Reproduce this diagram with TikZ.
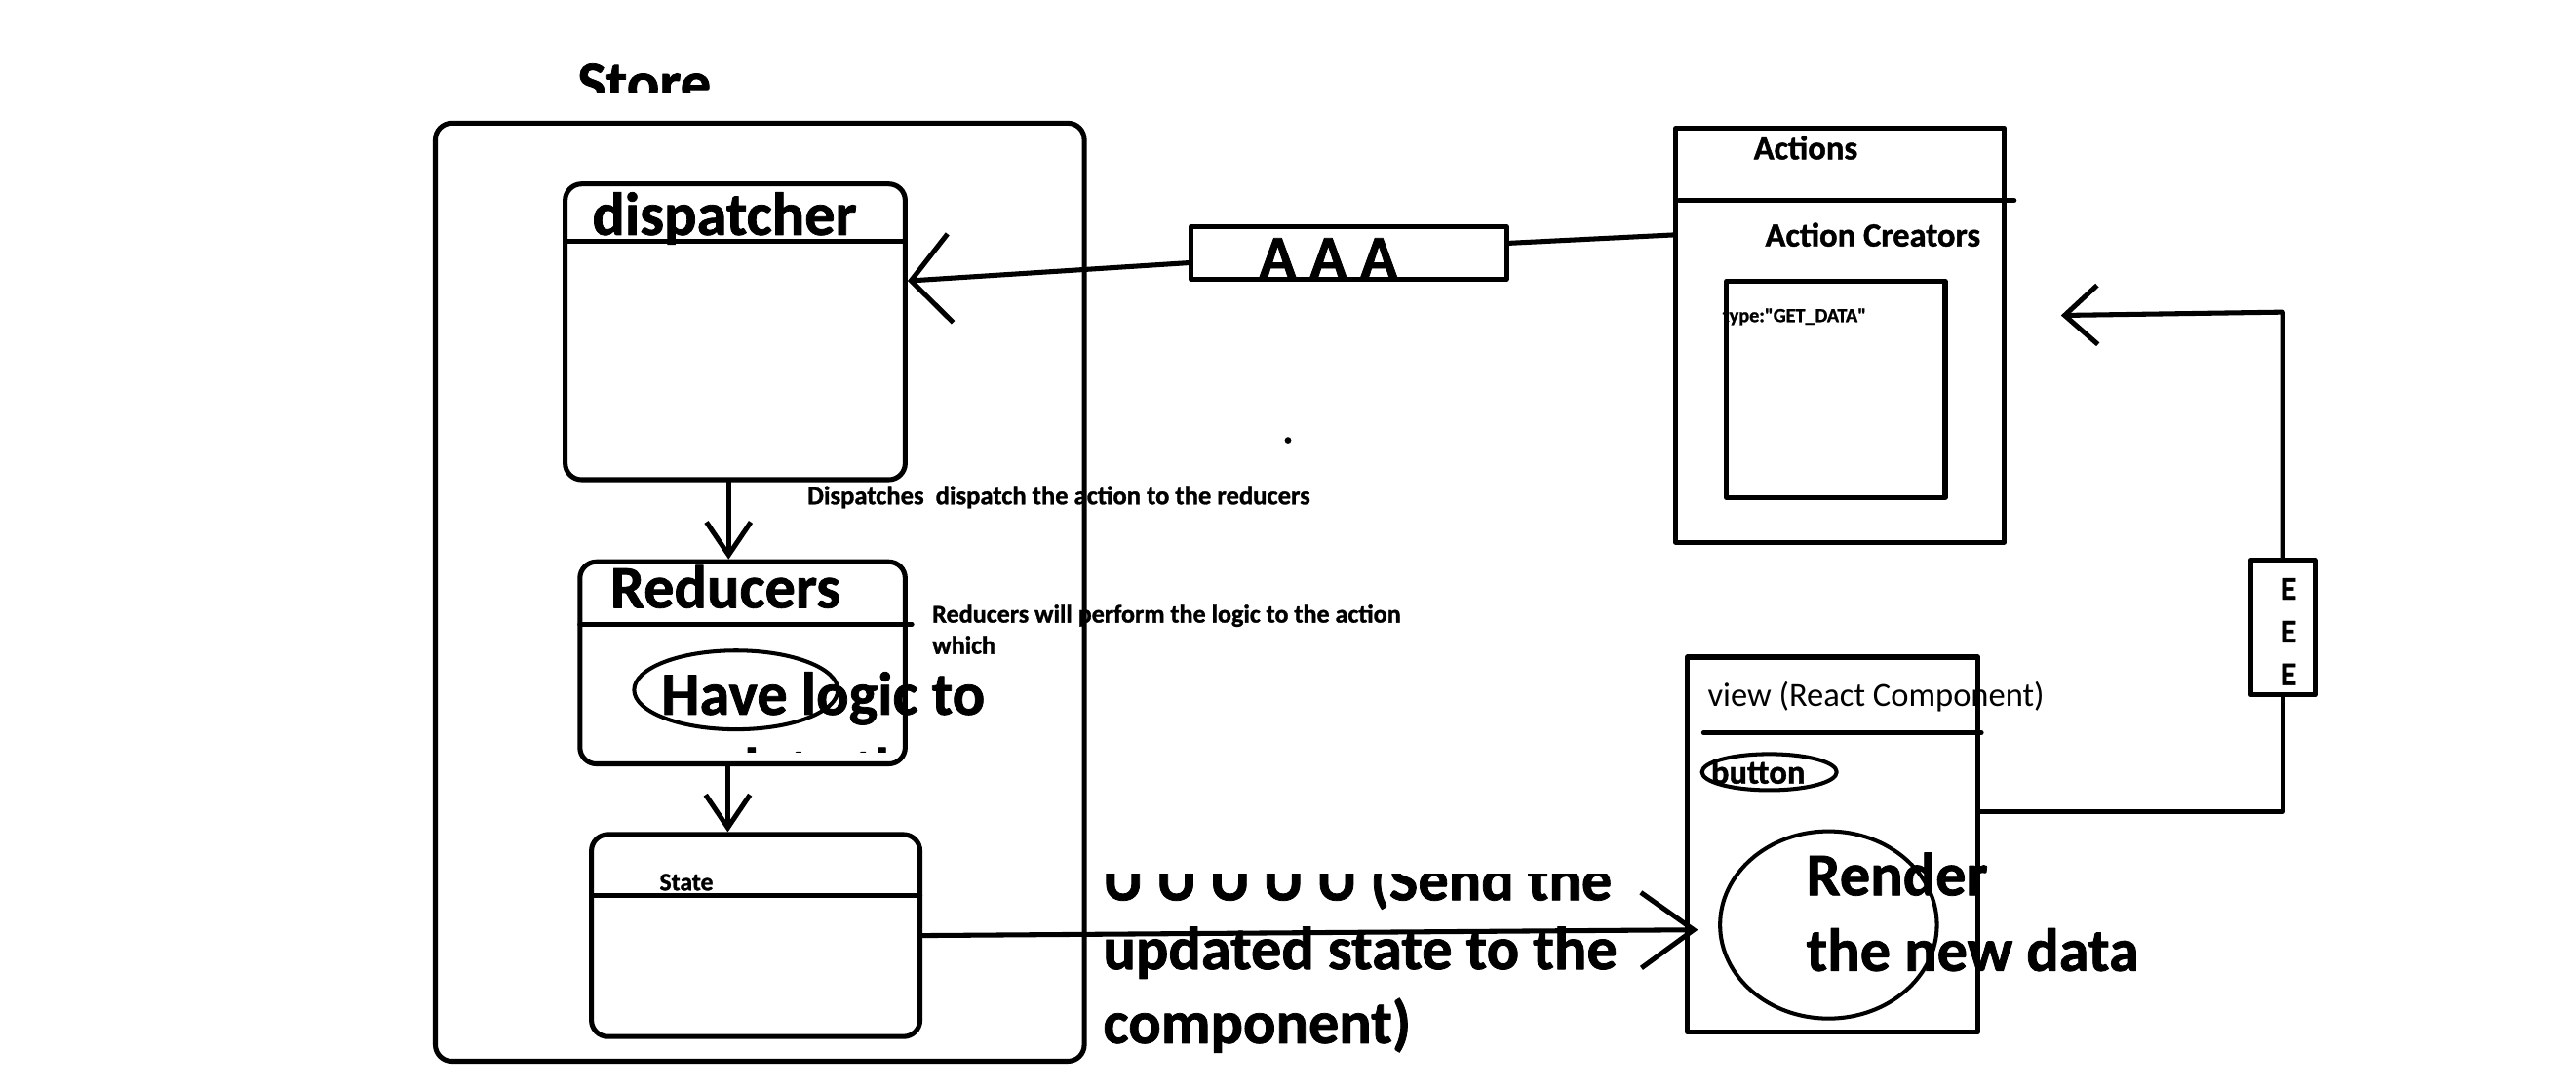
\documentclass[tikz,border=0pt]{standalone}
\usepackage{fontspec}
\setmainfont{Carlito}[BoldFeatures={FakeBold=1.2}]
\newfontfamily\rawfont{Carlito}[Ligatures=TeXOff, BoldFeatures={FakeBold=1.2}]
\usetikzlibrary{arrows.meta,calc,shapes.geometric}
\begin{document}
\begin{tikzpicture}[x=1pt,y=-1pt, line width=3pt, line cap=round, line join=round,
  rbox/.style={draw, rounded corners=10pt, inner sep=0pt},
  sbox/.style={draw, inner sep=0pt},
  oval/.style={draw, ellipse, inner sep=0pt, line width=2.4pt},
  lbl/.style={anchor=base west, inner sep=0pt, font=\bfseries\fontsize{#1}{#1}\selectfont},
  reg/.style={anchor=base west, inner sep=0pt, font=\fontsize{#1}{#1}\selectfont},
  arrbig/.style={-{Straight Barb[length=24pt,width=54pt]}},
  arrmid/.style={-{Straight Barb[length=20pt,width=27pt]}},
  arrview/.style={-{Straight Barb[length=32pt,width=46pt]}},
  arrtop/.style={-{Straight Barb[length=20pt,width=36pt]}}]
\useasboundingbox (0,0) rectangle (1568,663.5);
\fill[white] (0,0) rectangle (1568,663.5);

% boxes
\node[rbox, minimum width=395pt, minimum height=571pt] (store) at (462.5,360.5) {};
\node[rbox, minimum width=207pt, minimum height=180pt] (disp) at (447.5,202) {};
\node[rbox, minimum width=198pt, minimum height=123pt] (red) at (452,403.5) {};
\node[rbox, minimum width=200pt, minimum height=123pt] (state) at (460,569.5) {};
\node[sbox, minimum width=192pt, minimum height=32pt] (aaa) at (821,154) {};
\node[sbox, minimum width=200pt, minimum height=252pt] (actions) at (1120,204) {};
\node[sbox, minimum width=133pt, minimum height=132pt] (inner) at (1117.5,237) {};
\node[sbox, minimum width=177pt, minimum height=228pt] (view) at (1115.5,514) {};
\node[sbox, minimum width=39pt, minimum height=82pt] (eee) at (1389.5,382) {};

% dividers
\draw (344,147) -- (551,147);
\draw (353,380) -- (555,380);
\draw (360,545) -- (560,545);
\draw (1022,122) -- (1226,122);
\draw (1037,446) -- (1206,446);

% ovals
\node[oval, minimum width=124pt, minimum height=48pt] (logic) at (448,420) {};
\node[oval, minimum width=82pt, minimum height=22pt] (btn) at (1077,470) {};
\node[oval, minimum width=132pt, minimum height=114pt] (render) at (1113,563) {};

% dot
\fill (784,268) circle (2pt);

% texts
\begin{scope}
\clip (300,0) rectangle (500,56);
\node[lbl=37] (storet) at (350,63) {Store};
\end{scope}
\node[lbl=37] (dispt) at (359,143) {dispatcher};
\node[lbl=37] (aaat) at (765,169) {A A A};
\node[lbl=20.5] (actt) at (1066,97) {Actions};
\node[lbl=20.5] (acct) at (1073,150) {Action Creators};
\node[anchor=base west, inner sep=0pt, font=\rawfont\bfseries\fontsize{12}{12}\selectfont] (typet) at (1047,196) {type:"GET\_DATA"};
\node[lbl=15.8] (dispnote) at (490,307) {Dispatches\ \ dispatch the action to the reducers};
\node[lbl=37] (redt) at (370,370) {Reducers};
\node[lbl=37] (logict) at (401,435) {Have logic to};
\begin{scope}
\clip (380,440) rectangle (560,458);
\node[lbl=37] (logict2) at (401,481) {update the};
\end{scope}
\node[lbl=15.5] (rednote1) at (566,379) {Reducers will perform the logic to the action};
\node[lbl=15.5] (rednote2) at (566,398) {which};
\node[lbl=15.3] (statet) at (400,542) {State};
\begin{scope}
\clip (650,532) rectangle (1020,663);
\node[lbl=37] (u1) at (670,548) {U U U U U (Send the};
\end{scope}
\node[lbl=37] (u2) at (670,590) {updated state to the};
\node[lbl=37] (u3) at (670,635) {component)};
\node[reg=20.5] (viewt) at (1038,430) {view (React Component)};
\node[lbl=20.5] (btnt) at (1040,477) {button};
\node[lbl=37] (rend1) at (1098,545) {Render};
\node[lbl=37] (rend2) at (1098,591) {the new data};
\node[lbl=20, anchor=base] (e1) at (1393,365) {E};
\node[lbl=20, anchor=base] (e2) at (1393,391) {E};
\node[lbl=20, anchor=base] (e3) at (1393,417) {E};

% connectors
\draw[arrbig] ([yshift=-6pt]aaa.west) -- ([yshift=31pt]disp.east);
\draw ([yshift=6pt]aaa.east) -- ([yshift=61pt]actions.west);
\draw[arrmid] ([xshift=-4pt]disp.south) -- ([xshift=-4pt]disp.south |- red.north);
\draw[arrmid] ([xshift=-9pt]red.south) -- ([xshift=-9pt]red.south |- state.north);
\draw[arrview] (state.east) -- ([xshift=8pt,yshift=-52pt]view.west);
\draw ([yshift=20pt]view.east) -| (eee.south);
\coordinate (turn) at (1388,190);
\draw[arrtop] (eee.north) -- (eee.north |- turn) -- ([xshift=33pt,yshift=12pt]actions.east);
\end{tikzpicture}
\end{document}
